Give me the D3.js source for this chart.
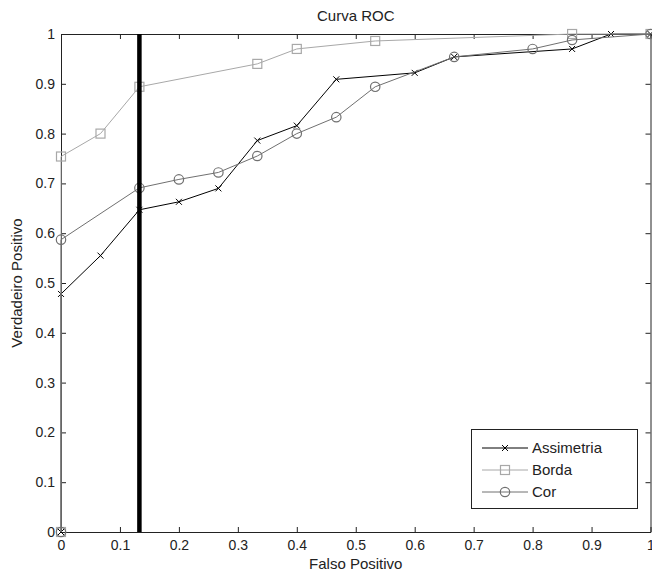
<!DOCTYPE html>
<html>
<head>
<meta charset="utf-8">
<script src="https://cdn.jsdelivr.net/npm/d3@7"></script>
<style>
  html, body { margin: 0; padding: 0; background: #fff; }
  svg { display: block; font-family: "Liberation Sans", Arial, sans-serif; }
</style>
</head>
<body>
<div class="chart"></div>
<script>
// values
var assimetriaX = [0, 0, 0.067, 0.133, 0.2, 0.267, 0.333, 0.4, 0.467, 0.6, 0.667, 0.867, 0.933, 1];
var assimetriaY = [0, 0.478, 0.555, 0.647, 0.663, 0.69, 0.786, 0.816, 0.909, 0.922, 0.954, 0.97, 1, 1];

var bordaX = [0, 0, 0.067, 0.133, 0.333, 0.4, 0.533, 0.867, 1];
var bordaY = [0, 0.754, 0.8, 0.894, 0.94, 0.97, 0.986, 1, 1];

var corX = [0, 0, 0.133, 0.2, 0.267, 0.333, 0.4, 0.467, 0.533, 0.667, 0.8, 0.867, 1];
var corY = [0, 0.587, 0.691, 0.708, 0.722, 0.755, 0.8, 0.833, 0.894, 0.954, 0.97, 0.988, 1];

var thresholdX = 0.133;

var tickValues = [0, 0.1, 0.2, 0.3, 0.4, 0.5, 0.6, 0.7, 0.8, 0.9, 1];
var tickLabels = ['0', '0.1', '0.2', '0.3', '0.4', '0.5', '0.6', '0.7', '0.8', '0.9', '1'];

var seriesNames = ['Assimetria', 'Borda', 'Cor'];

var width = 652, height = 575;
var margin = {top: 34, right: 1.5, bottom: 43, left: 61};

var svg = d3.select('.chart')
    .append('svg')
        .attr('width', width)
        .attr('height', height);

svg.append('rect')
    .attr('width', width)
    .attr('height', height)
    .attr('fill', '#fff');

var x = d3.scaleLinear().domain([0, 1]).range([margin.left, width - margin.right]);
var y = d3.scaleLinear().domain([0, 1]).range([height - margin.bottom, margin.top]);

function fmt(d) {
    return tickLabels[tickValues.indexOf(d)];
}

// axes, MATLAB box style with inward ticks
var gx = svg.append('g')
    .attr('transform', 'translate(0,' + y(0) + ')')
    .call(d3.axisBottom(x).tickValues(tickValues).tickFormat(fmt)
        .tickSizeInner(-5).tickSizeOuter(0).tickPadding(8));
var gy = svg.append('g')
    .attr('transform', 'translate(' + x(0) + ',0)')
    .call(d3.axisLeft(y).tickValues(tickValues).tickFormat(fmt)
        .tickSizeInner(-5).tickSizeOuter(0).tickPadding(6));
var gt = svg.append('g')
    .attr('transform', 'translate(0,' + y(1) + ')')
    .call(d3.axisTop(x).tickValues(tickValues).tickFormat('')
        .tickSizeInner(-5).tickSizeOuter(0));
var gr = svg.append('g')
    .attr('transform', 'translate(' + x(1) + ',0)')
    .call(d3.axisRight(y).tickValues(tickValues).tickFormat('')
        .tickSizeInner(-5).tickSizeOuter(0));

[gx, gy, gt, gr].forEach(function (g) {
    g.selectAll('path, line').attr('stroke', '#222');
    g.selectAll('text')
        .attr('fill', '#222')
        .style('font-size', '14px')
        .style('font-family', '"Liberation Sans", Arial, sans-serif');
});

var series = [
    {name: seriesNames[0], xs: assimetriaX, ys: assimetriaY, color: '#000', marker: 'x'},
    {name: seriesNames[1], xs: bordaX, ys: bordaY, color: '#a8a8a8', marker: 'square'},
    {name: seriesNames[2], xs: corX, ys: corY, color: '#707070', marker: 'circle'}
];

var line = d3.line()
    .x(function (d) { return x(d[0]); })
    .y(function (d) { return y(d[1]); });

function drawMarker(g, type, color) {
    if (type === 'x') {
        g.append('path')
            .attr('d', 'M-3,-3L3,3M-3,3L3,-3')
            .attr('stroke', color)
            .attr('stroke-width', 1);
    } else if (type === 'square') {
        g.append('rect')
            .attr('x', -4.5).attr('y', -4.5)
            .attr('width', 9).attr('height', 9)
            .attr('fill', 'none')
            .attr('stroke', color)
            .attr('stroke-width', 1.2);
    } else {
        g.append('circle')
            .attr('r', 4.7)
            .attr('fill', 'none')
            .attr('stroke', color)
            .attr('stroke-width', 1.2);
    }
}

series.forEach(function (s) {
    var pts = s.xs.map(function (v, i) { return [v, s.ys[i]]; });
    svg.append('path')
        .datum(pts)
        .attr('d', line)
        .attr('fill', 'none')
        .attr('stroke', s.color)
        .attr('stroke-width', 1);
    svg.selectAll('.m-' + s.marker)
        .data(pts)
        .enter().append('g')
            .attr('class', 'm-' + s.marker)
            .attr('transform', function (d) { return 'translate(' + x(d[0]) + ',' + y(d[1]) + ')'; })
            .each(function () { drawMarker(d3.select(this), s.marker, s.color); });
});

// threshold line
svg.append('line')
    .attr('x1', x(thresholdX)).attr('x2', x(thresholdX))
    .attr('y1', y(1)).attr('y2', y(0))
    .attr('stroke', '#000')
    .attr('stroke-width', 4.5);

// titles
svg.append('text')
    .attr('x', (x(0) + x(1)) / 2)
    .attr('y', 21)
    .attr('text-anchor', 'middle')
    .style('font-size', '15px')
    .attr('fill', '#222')
    .text('Curva ROC');

svg.append('text')
    .attr('x', (x(0) + x(1)) / 2)
    .attr('y', 569)
    .attr('text-anchor', 'middle')
    .style('font-size', '15px')
    .attr('fill', '#222')
    .text('Falso Positivo');

svg.append('text')
    .attr('transform', 'translate(22,' + (y(0) + y(1)) / 2 + ') rotate(-90)')
    .attr('text-anchor', 'middle')
    .style('font-size', '15px')
    .attr('fill', '#222')
    .text('Verdadeiro Positivo');

// legend
var legend = svg.append('g').attr('transform', 'translate(471,429)');
legend.append('rect')
    .attr('x', 0.5).attr('y', 0.5)
    .attr('width', 166).attr('height', 79)
    .attr('fill', '#fff')
    .attr('stroke', '#222')
    .attr('stroke-width', 1);

var rows = legend.selectAll('.row')
    .data(series)
    .enter().append('g')
        .attr('class', 'row')
        .attr('transform', function (d, i) { return 'translate(0,' + (19 + i * 22) + ')'; });

rows.append('line')
    .attr('x1', 11).attr('x2', 57)
    .attr('stroke', function (d) { return d.color; })
    .attr('stroke-width', 1);
rows.each(function (d) {
    var g = d3.select(this).append('g').attr('transform', 'translate(34,0)');
    drawMarker(g, d.marker, d.color);
});
rows.append('text')
    .attr('x', 61)
    .attr('dy', '0.35em')
    .style('font-size', '15px')
    .attr('fill', '#222')
    .text(function (d) { return d.name; });
</script>
</body>
</html>
